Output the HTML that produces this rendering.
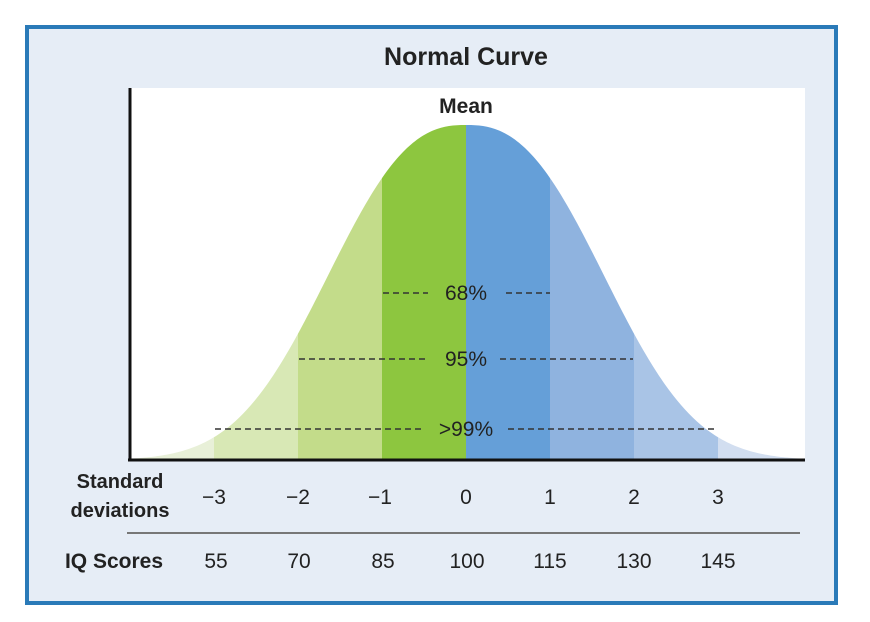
<!DOCTYPE html>
<html><head><meta charset="utf-8"><style>
html,body{margin:0;padding:0;background:#fff;width:870px;height:622px;overflow:hidden}
svg{display:block}
text{font-family:"Liberation Sans",sans-serif;fill:#222}
</style></head><body>
<svg id="s" width="870" height="622" viewBox="0 0 870 622">
<rect x="27" y="27" width="809" height="576" fill="#e6edf6" stroke="#2a7ab8" stroke-width="4"/>
<rect x="130" y="88" width="675" height="372" fill="#fff"/>
<defs><clipPath id="c"><path id="cp" d=""/></clipPath></defs>
<g clip-path="url(#c)">
<rect x="100" y="80" width="114" height="390" fill="#e8f0d8"/>
<rect x="214" y="80" width="84" height="390" fill="#d8e8b5"/>
<rect x="298" y="80" width="84" height="390" fill="#c3dc8a"/>
<rect x="382" y="80" width="84" height="390" fill="#8dc63f"/>
<rect x="466" y="80" width="84" height="390" fill="#659fd8"/>
<rect x="550" y="80" width="84" height="390" fill="#8fb3df"/>
<rect x="634" y="80" width="84" height="390" fill="#a9c4e6"/>
<rect x="718" y="80" width="90" height="390" fill="#d2def0"/>
</g>
<g stroke="#333" stroke-width="1.5" stroke-dasharray="6,4">
<line x1="383" y1="293" x2="428" y2="293"/><line x1="506" y1="293" x2="550" y2="293"/>
<line x1="299" y1="359" x2="428" y2="359"/><line x1="500" y1="359" x2="633" y2="359"/>
<line x1="215" y1="429" x2="423" y2="429"/><line x1="508" y1="429" x2="717" y2="429"/>
</g>
<text x="466" y="300" font-size="21" text-anchor="middle">68%</text>
<text x="466" y="366" font-size="21" text-anchor="middle">95%</text>
<text x="466" y="436" font-size="21" text-anchor="middle">&gt;99%</text>
<line x1="130" y1="88" x2="130" y2="461" stroke="#111" stroke-width="3"/>
<line x1="128" y1="460" x2="805" y2="460" stroke="#111" stroke-width="3"/>
<line x1="127" y1="533" x2="800" y2="533" stroke="#777" stroke-width="2"/>
<text x="466" y="65" font-size="25" font-weight="bold" text-anchor="middle">Normal Curve</text>
<text x="466" y="113" font-size="21" font-weight="bold" text-anchor="middle">Mean</text>
<text x="120" y="488" font-size="20" font-weight="bold" text-anchor="middle">Standard</text>
<text x="120" y="517" font-size="20" font-weight="bold" text-anchor="middle">deviations</text>
<text x="114" y="568" font-size="21" font-weight="bold" text-anchor="middle">IQ Scores</text>
<g font-size="21" text-anchor="middle">
<text x="214" y="504">−3</text><text x="298" y="504">−2</text><text x="380" y="504">−1</text><text x="466" y="504">0</text><text x="550" y="504">1</text><text x="634" y="504">2</text><text x="718" y="504">3</text>
</g>
<g font-size="21" text-anchor="middle">
<text x="216" y="568">55</text><text x="299" y="568">70</text><text x="383" y="568">85</text><text x="467" y="568">100</text><text x="550" y="568">115</text><text x="634" y="568">130</text><text x="718" y="568">145</text>
</g>
</svg>
<script>
var d="M131 460";
for(var x=131;x<=803;x+=2){var z=Math.abs((x-466)/84);d+=" L"+x+" "+(460-335*Math.exp(-Math.pow(z,2.5)/5.8)).toFixed(2);}
d+=" L803 460 Z";
document.getElementById("cp").setAttribute("d",d);
</script>
</body></html>
